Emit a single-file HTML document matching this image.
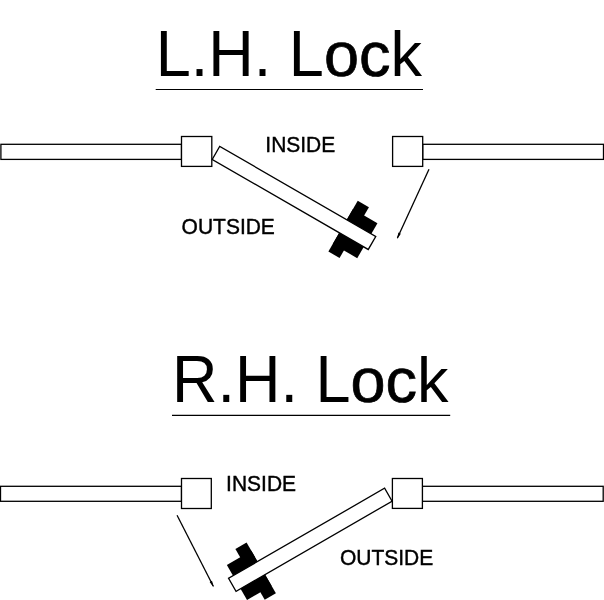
<!DOCTYPE html>
<html>
<head>
<meta charset="utf-8">
<title>L.H. Lock / R.H. Lock</title>
<style>
  html, body { margin: 0; padding: 0; background: #ffffff; }
  body { width: 604px; height: 600px; overflow: hidden; }
  svg { display: block; will-change: transform; }
  text { font-family: "Liberation Sans", Arial, Helvetica, sans-serif; fill: #000; }
  .ln { stroke: #000; stroke-width: 1.3; fill: #fff; }
  .title { font-size: 63px; }
  .lbl { font-size: 21px; stroke: #000; stroke-width: 0.4px; }
</style>
</head>
<body>
<svg width="604" height="600" viewBox="0 0 604 600">
  <rect x="0" y="0" width="604" height="600" fill="#ffffff"/>

  <!-- ===== L.H. Lock ===== -->
  <text class="title" x="155.8" y="76.2"><tspan font-size="65.52" textLength="168.1" lengthAdjust="spacingAndGlyphs">L.H. L</tspan><tspan x="323.9" stroke="#000" stroke-width="0.7">oc</tspan><tspan x="390.43" font-size="62.05" textLength="31.5" lengthAdjust="spacingAndGlyphs">k</tspan></text>
  <line x1="155.7" y1="89.5" x2="423" y2="89.5" stroke="#000" stroke-width="1.2"/>

  <!-- walls -->
  <rect class="ln" x="0.9" y="144.3" width="180.6" height="15.1"/>
  <rect class="ln" x="422.7" y="144.3" width="180.8" height="15.1"/>
  <!-- jamb boxes -->
  <rect class="ln" x="181.5" y="136.5" width="30.3" height="29.9"/>
  <rect class="ln" x="392.6" y="136.5" width="30.1" height="29.9"/>

  <!-- door + lock, local frame: origin at hinge corner, x along door, y across -->
  <g transform="translate(212.2 159.4) rotate(30)">
    <rect x="146.7" y="-37" width="12.9" height="58.7" fill="#000"/>
    <rect x="146.7" y="-27.4" width="28.3" height="40.4" fill="#000"/>
    <rect class="ln" x="0" y="-15" width="180.2" height="15"/>
  </g>

  <!-- swing arrow -->
  <line x1="429" y1="169.3" x2="397.4" y2="238.0" stroke="#000" stroke-width="1.3"/>
  <polygon points="397.0,238.9 398.4,232.6 400.9,233.75" fill="#000"/>

  <text class="lbl" transform="translate(265.3 151.8) scale(1 1.03)">INSIDE</text>
  <text class="lbl" transform="translate(181.6 233.8) scale(1 1.03)">OUTSIDE</text>

  <!-- ===== R.H. Lock ===== -->
  <text class="title" x="171.9" y="401.7"><tspan font-size="66.9" textLength="178.55" lengthAdjust="spacingAndGlyphs">R.H. L</tspan><tspan x="350.45" stroke="#000" stroke-width="0.7">oc</tspan><tspan x="416.98" font-size="62.05" textLength="31.5" lengthAdjust="spacingAndGlyphs">k</tspan></text>
  <line x1="172" y1="415.3" x2="450.2" y2="415.3" stroke="#000" stroke-width="1.3"/>

  <rect class="ln" x="0.5" y="486.3" width="181" height="15"/>
  <rect class="ln" x="422.4" y="486.3" width="180.8" height="15"/>
  <rect class="ln" x="181.5" y="478.5" width="29.8" height="30"/>
  <rect class="ln" x="392.4" y="478.5" width="30" height="29.9"/>

  <g transform="translate(392.1 501.2) scale(-1 1) rotate(30)">
    <rect x="146.7" y="-37" width="12.9" height="58.7" fill="#000"/>
    <rect x="146.7" y="-27.4" width="28.3" height="40.4" fill="#000"/>
    <rect class="ln" x="0" y="-15" width="180.2" height="15"/>
  </g>

  <line x1="177.05" y1="515.25" x2="213.3" y2="586.3" stroke="#000" stroke-width="1.3"/>
  <polygon points="213.75,587.2 209.6,582.05 212.0,580.75" fill="#000"/>

  <text class="lbl" transform="translate(226.1 490.7) scale(1 1.03)">INSIDE</text>
  <text class="lbl" transform="translate(340.0 565.4) scale(1 1.03)">OUTSIDE</text>
</svg>
</body>
</html>
